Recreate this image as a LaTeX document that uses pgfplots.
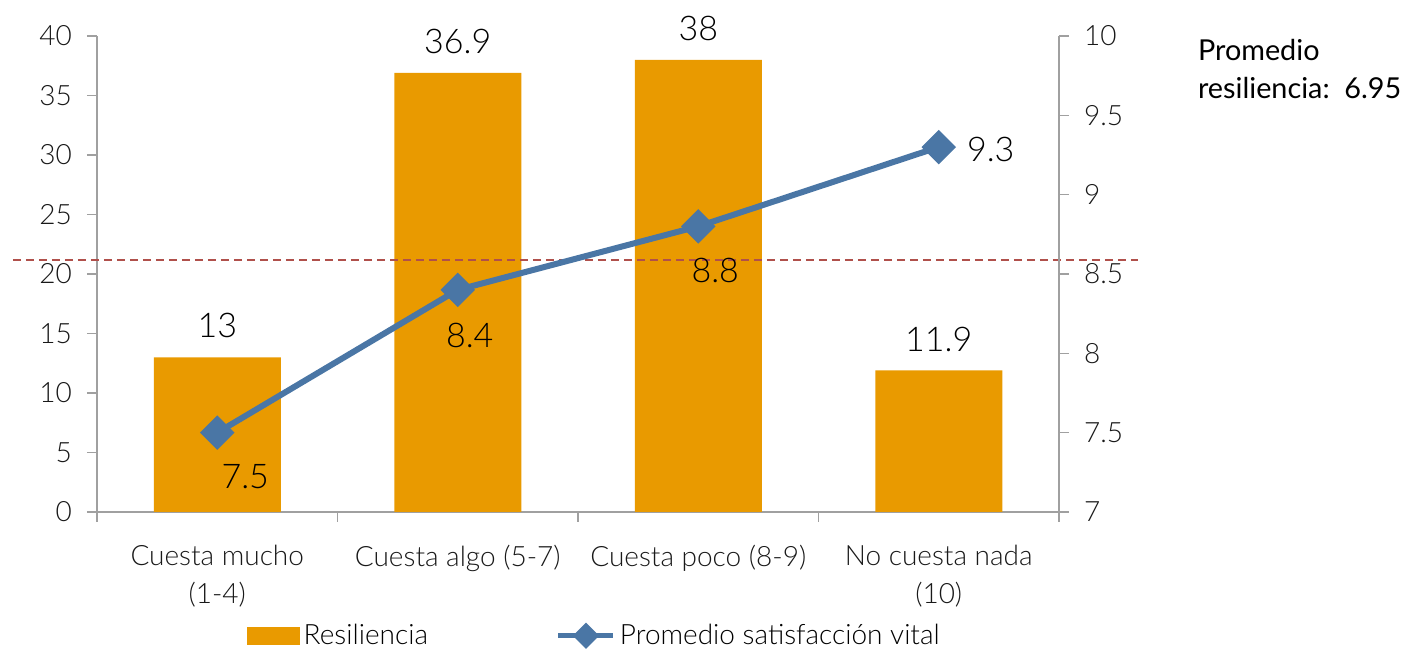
\documentclass[border=0pt]{standalone}
\usepackage{pgfplots}
\pgfplotsset{compat=1.18}
\usepackage{fontspec}
\setmainfont{Lato Light}
\newfontfamily\regfont{Lato}
\definecolor{barorange}{RGB}{233,154,0}
\definecolor{lineblue}{RGB}{74,118,165}
\definecolor{dashred}{RGB}{176,80,75}
\definecolor{axgray}{RGB}{160,160,160}
\begin{document}
\begin{tikzpicture}
\path[use as bounding box] (-48.5pt,-70pt) rectangle (658.5pt,256pt);
\begin{axis}[
  at={(0,0)}, anchor=south west,
  width=481pt, height=238pt, scale only axis,
  xmin=-0.5, xmax=3.5, ymin=0, ymax=40,
  axis y line*=left, axis x line*=bottom,
  axis line style={axgray, line width=0.8pt},
  ytick={0,5,...,40},
  xtick={0,1,2,3},
  xticklabels={{Cuesta mucho\\(1-4)},{Cuesta algo (5-7)},{Cuesta poco (8-9)},{No cuesta nada\\(10)}},
  xticklabel style={align=center, font=\fontsize{14}{19}\selectfont, text=black!90, yshift=-8pt},
  major x tick style={draw=none},
  minor xtick={-0.5,0.5,1.5,2.5,3.5},
  minor tick length=5pt,
  major tick length=5pt,
  tick align=outside,
  tick style={axgray, line width=0.8pt},
  yticklabel style={font=\fontsize{14}{16}\selectfont, text=black!90, xshift=-4pt},
  /pgf/number format/assume math mode=true,
  clip=false,
]
\addplot[ybar, bar width=63.5pt, fill=barorange, draw=none,
  nodes near coords,
  nodes near coords style={font=\fontsize{17}{17}\selectfont, text=black, anchor=south, yshift=6pt}]
  coordinates {(0,13) (1,36.9) (2,38) (3,11.9)};
\addplot[dashred, line width=1pt, dash pattern=on 4pt off 2.5pt]
  coordinates {(-0.85,21.2) (3.83,21.2)};
\end{axis}
\begin{axis}[
  at={(0,0)}, anchor=south west,
  width=481pt, height=238pt, scale only axis,
  xmin=-0.5, xmax=3.5, ymin=7, ymax=10,
  axis y line*=right, axis x line=none,
  axis line style={axgray, line width=0.8pt},
  ytick={7,7.5,...,10},
  tick align=outside,
  major tick length=5pt,
  tick style={axgray, line width=0.8pt},
  yticklabel style={font=\fontsize{14}{16}\selectfont, text=black!90, xshift=4pt},
  /pgf/number format/assume math mode=true,
  clip=false,
  legend style={at={(axis description cs:0.518,-0.26)}, anchor=center, draw=none,
    font=\fontsize{14}{16}\selectfont, legend columns=2,
    /tikz/every even column/.append style={column sep=62pt}},
]
\addlegendimage{legend image code/.code={\fill[barorange] (0pt,-4.25pt) rectangle (26pt,4.25pt);}}
\addlegendentry{Resiliencia}
\addplot[lineblue, line width=3pt, mark=square*, mark size=4.6pt, mark options={rotate=45},
  legend image code/.code={\draw[lineblue, line width=2.5pt] (0pt,0pt) -- (27.5pt,0pt);
    \fill[lineblue] (13.75pt,4.5pt) -- (18.25pt,0pt) -- (13.75pt,-4.5pt) -- (9.25pt,0pt) -- cycle;}]
  coordinates {(0,7.5) (1,8.4) (2,8.8) (3,9.3)};
\addlegendentry{Promedio satisfacción vital}
\node[font=\fontsize{17}{17}\selectfont, xshift=14pt, yshift=-22pt] at (axis cs:0,7.5) {7.5};
\node[font=\fontsize{17}{17}\selectfont, xshift=6pt, yshift=-23pt] at (axis cs:1,8.4) {8.4};
\node[font=\fontsize{17}{17}\selectfont, xshift=8.5pt, yshift=-22pt] at (axis cs:2,8.8) {8.8};
\node[font=\fontsize{17}{17}\selectfont, xshift=26pt, yshift=-1pt] at (axis cs:3,9.3) {9.3};
\end{axis}
\node[anchor=north west, align=left, font=\regfont\fontsize{14.4}{19}\selectfont] at (547pt,240pt) {Promedio\\resiliencia:\ \ 6.95};
\end{tikzpicture}
\end{document}
